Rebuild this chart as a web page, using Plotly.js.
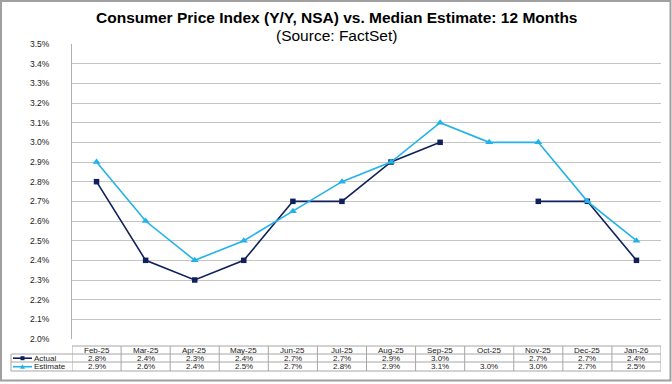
<!DOCTYPE html>
<html>
<head>
<meta charset="utf-8">
<script src="https://cdn.plot.ly/plotly-3.0.1.min.js"></script>
<style>
html,body{margin:0;padding:0;background:#fff;}
#chart{width:672px;height:384px;}
</style>
</head>
<body>
<div id="chart"></div>
<script>
// ---- data ----
const months = ['Feb-25','Mar-25','Apr-25','May-25','Jun-25','Jul-25','Aug-25','Sep-25','Oct-25','Nov-25','Dec-25','Jan-26'];
const actual = [2.8, 2.4, 2.3, 2.4, 2.7, 2.7, 2.9, 3.0, null, 2.7, 2.7, 2.4];
const estimate = [2.9, 2.6, 2.4, 2.5, 2.65, 2.8, 2.9, 3.1, 3.0, 3.0, 2.7, 2.5];
const yTicks = [2.0,2.1,2.2,2.3,2.4,2.5,2.6,2.7,2.8,2.9,3.0,3.1,3.2,3.3,3.4,3.5];
const seriesNames = ['Actual','Estimate'];

const cActual = '#10205c';
const cEst = '#22b2ea';

// pixel layout
const L = 72, R = 661, T = 44, B = 339;
const W = 672, H = 384;
const px2x = X => (X - L) / (R - L);
const px2y = Y => (B - Y) / (B - T);

const fmt = v => (v === null || v === undefined) ? '' : (Math.round(v * 100) / 100 + 1e-9).toFixed(1) + '%';

const traces = [
  {x: months, y: actual, name: seriesNames[0], type: 'scatter', mode: 'lines+markers',
   line: {color: cActual, width: 1.6}, marker: {symbol: 'square', size: 5.5, color: cActual},
   connectgaps: false, hoverinfo: 'skip'},
  {x: months, y: estimate, name: seriesNames[1], type: 'scatter', mode: 'lines+markers',
   line: {color: cEst, width: 1.6}, marker: {symbol: 'triangle-up', size: 7, color: cEst},
   hoverinfo: 'skip'}
];

const shapes = [];
const annotations = [];
const gray = '#a6a6a6';

// outer border
shapes.push({type: 'rect', xref: 'paper', yref: 'paper',
  x0: px2x(1), x1: px2x(670.5), y0: px2y(1), y1: px2y(380.5),
  line: {color: '#a0a0a0', width: 2}, fillcolor: 'rgba(0,0,0,0)', layer: 'below'});

// table rows
const rowY = [346, 354, 362, 371];
shapes.push({type: 'line', xref: 'paper', yref: 'paper', x0: 0, x1: 1, y0: px2y(rowY[0]), y1: px2y(rowY[0]), line: {color: gray, width: 1}});
for (let k = 1; k < rowY.length; k++) {
  shapes.push({type: 'line', xref: 'paper', yref: 'paper', x0: px2x(11), x1: 1, y0: px2y(rowY[k]), y1: px2y(rowY[k]), line: {color: gray, width: 1}});
}
// vertical lines
shapes.push({type: 'line', xref: 'paper', yref: 'paper', x0: px2x(11), x1: px2x(11), y0: px2y(354), y1: px2y(371), line: {color: gray, width: 1}});
for (let i = 0; i <= months.length; i++) {
  shapes.push({type: 'line', xref: 'x', yref: 'paper', x0: i - 0.5, x1: i - 0.5, y0: px2y(346), y1: px2y(371), line: {color: gray, width: 1}});
}

const tf = {family: 'Liberation Sans, Arial, sans-serif', size: 8, color: '#222'};
const rowCenters = [350.2, 358.2, 366.7];
const ann = (o) => Object.assign({showarrow: false, font: tf, yanchor: 'middle', borderpad: 0}, o);
months.forEach((m, i) => {
  annotations.push(ann({x: m, xref: 'x', y: px2y(rowCenters[0]), yref: 'paper', text: m, xanchor: 'center'}));
  annotations.push(ann({x: m, xref: 'x', y: px2y(rowCenters[1]), yref: 'paper', text: fmt(actual[i]), xanchor: 'center'}));
  annotations.push(ann({x: m, xref: 'x', y: px2y(rowCenters[2]), yref: 'paper', text: fmt(estimate[i]), xanchor: 'center'}));
});

// legend keys in table
[[cActual, rowCenters[1], 'square'], [cEst, rowCenters[2], 'tri']].forEach((d, k) => {
  const [c, yc, sym] = d;
  shapes.push({type: 'line', xref: 'paper', yref: 'paper', x0: px2x(13), x1: px2x(32), y0: px2y(yc), y1: px2y(yc), line: {color: c, width: 1.6}});
  if (sym === 'square') {
    shapes.push({type: 'rect', xref: 'paper', yref: 'paper', x0: px2x(20.5), x1: px2x(24.5), y0: px2y(yc + 2), y1: px2y(yc - 2), line: {width: 0}, fillcolor: c});
  } else {
    const x0 = px2x(20), x1 = px2x(25), xm = px2x(22.5), yb = px2y(yc + 2), yt = px2y(yc - 2.5);
    shapes.push({type: 'path', xref: 'paper', yref: 'paper', path: `M ${x0} ${yb} L ${x1} ${yb} L ${xm} ${yt} Z`, line: {width: 0}, fillcolor: c});
  }
  annotations.push(ann({x: px2x(33), xref: 'paper', y: px2y(yc), yref: 'paper', text: seriesNames[k], xanchor: 'left'}));
});

// titles
annotations.push({x: px2x(336), xref: 'paper', y: px2y(17.5), yref: 'paper', text: '<b>Consumer Price Index (Y/Y, NSA) vs. Median Estimate: 12 Months</b>', showarrow: false,
  font: {family: 'Liberation Sans, Arial, sans-serif', size: 15.5, color: '#000'}, xanchor: 'center', yanchor: 'middle'});
annotations.push({x: px2x(336), xref: 'paper', y: px2y(35), yref: 'paper', text: '(Source: FactSet)', showarrow: false,
  font: {family: 'Liberation Sans, Arial, sans-serif', size: 15.5, color: '#000'}, xanchor: 'center', yanchor: 'middle'});

const layout = {
  width: W, height: H,
  margin: {l: L, r: W - R, t: T, b: H - B, pad: 0},
  paper_bgcolor: '#fff', plot_bgcolor: '#fff',
  showlegend: false,
  font: {family: 'Liberation Sans, Arial, sans-serif', color: '#222'},
  xaxis: {type: 'category', categoryorder: 'array', categoryarray: months, range: [-0.5, months.length - 0.5],
    showticklabels: false, showgrid: false, zeroline: false, showline: false, ticks: '', fixedrange: true},
  yaxis: {range: [2.0, 3.5], tickvals: yTicks, ticktext: yTicks.map(v => v.toFixed(1) + '%'),
    tickfont: {size: 8.5, color: '#222'}, showgrid: true, gridcolor: '#c4c4c4', gridwidth: 1,
    zeroline: false, showline: true, linecolor: '#b0b0b0', linewidth: 1, ticks: 'outside', ticklen: 0,
    ticklabelstandoff: 20, fixedrange: true},
  shapes: shapes,
  annotations: annotations
};

Plotly.newPlot('chart', traces, layout, {staticPlot: true, displayModeBar: false});
</script>
</body>
</html>
